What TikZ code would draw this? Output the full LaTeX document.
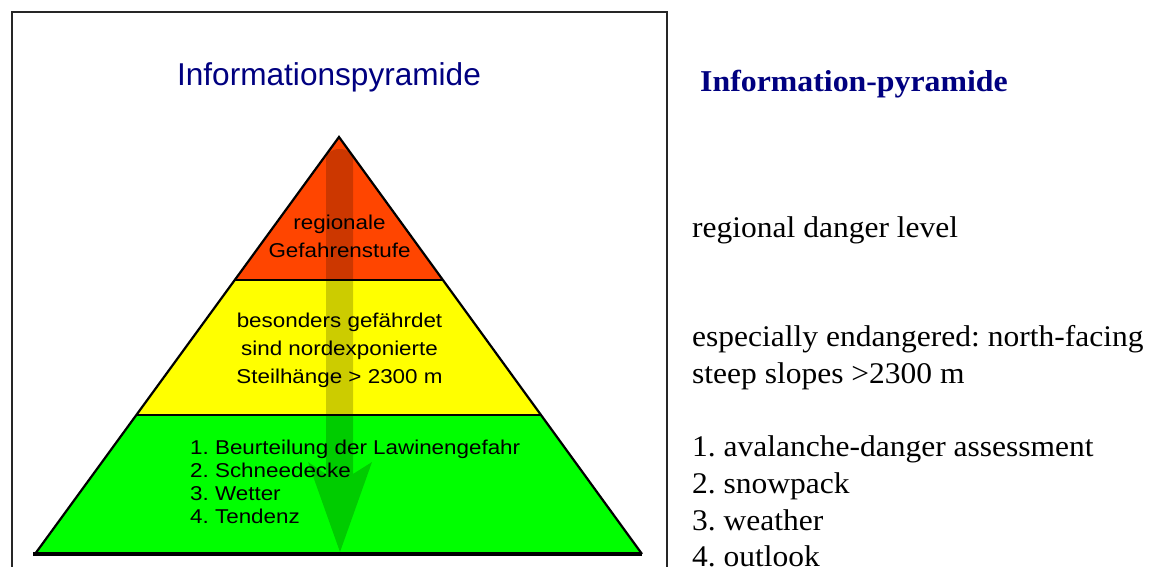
\documentclass[tikz,border=0pt]{standalone}
\usepackage{fontspec}
\setmainfont{Liberation Serif}
\newfontfamily\pyrfont[FakeStretch=1.12]{Liberation Sans}
\newfontfamily\headfont{Liberation Sans}
\newfontfamily\engfont[FakeStretch=1.05]{Liberation Serif}
\usetikzlibrary{calc}
\frenchspacing

\definecolor{headblue}{RGB}{0,0,128}
\definecolor{topred}{RGB}{255,69,0}
\definecolor{midyellow}{RGB}{255,255,0}
\definecolor{basegreen}{RGB}{0,255,0}

\tikzset{
    pyrtext/.style={font=\pyrfont\fontsize{20}{28}\selectfont,inner sep=0pt,align=center,anchor=base},
    pyrlist/.style={font=\pyrfont\fontsize{20}{22.7}\selectfont,inner sep=0pt,align=left,anchor=base west},
    engtext/.style={font=\engfont\fontsize{30}{36.7}\selectfont,inner sep=0pt,align=left,anchor=base west}
}

\begin{document}
\begin{tikzpicture}[x=1pt,y=-1pt]
            \useasboundingbox (0,0) rectangle (1155,566);
            \clip (0,0) rectangle (1155,566);
            \fill[white] (0,0) rectangle (1155,566);
            \draw[line width=1.5pt,black!85] (12,572) -- (12,12) -- (667,12) -- (667,572);
            \node[font=\headfont\fontsize{31.6}{36}\selectfont,text=headblue,inner sep=0pt,anchor=base]
                (titlede) at (329,85) {Informationspyramide};

            \coordinate (apex) at (339,137);
            \coordinate (bl) at (35,554);
            \coordinate (br) at (642,554);
            \coordinate (yl) at ($(apex)!0.343!(bl)$);
            \coordinate (yr) at ($(apex)!0.343!(br)$);
            \coordinate (gl) at ($(apex)!0.667!(bl)$);
            \coordinate (gr) at ($(apex)!0.667!(br)$);

            \fill[topred] (apex) -- (yl) -- (yr) -- cycle;
            \fill[midyellow] (yl) -- (gl) -- (gr) -- (yr) -- cycle;
            \fill[basegreen] (gl) -- (bl) -- (br) -- (gr) -- cycle;
            \draw[line width=2.2pt,line join=miter] (bl) -- (apex) -- (br);
            \draw[line width=2.5pt] (yl) -- (yr);
            \draw[line width=2.5pt] (gl) -- (gr);
            \draw[line width=3.5pt] ($(bl)+(-2,0)$) -- (br);

            \fill[black,opacity=0.2] (326,474) -- (326,158)
                arc[start angle=180,end angle=0,x radius=13.5pt,y radius=9pt]
                -- (353,474) -- (372,462) -- (340,552) -- (308,462) -- cycle;

            % multi-line nodes sit on the baseline of their last line
            \node[pyrtext] (levelde) at (339.5,257) {regionale\\Gefahrenstufe};
            \node[pyrtext] (slopede) at (339.5,383)
                {besonders gefährdet\\sind nordexponierte\\Steilhänge > 2300 m};
            \node[pyrlist] (listde) at (190,523)
                {1. Beurteilung der Lawinengefahr\\2. Schneedecke\\3. Wetter\\4. Tendenz};

            \node[engtext,font=\engfont\bfseries\fontsize{30.3}{36}\selectfont,text=headblue]
                (titleen) at (700,91) {Information-pyramide};
            \node[engtext] (levelen) at (692,237) {regional danger level};
            \node[engtext] (slopeen) at (692,383.4)
                {especially endangered: north-facing\\steep slopes >2300 m};
            \node[engtext] (listen) at (692,566.8)
                {1. avalanche-danger assessment\\2. snowpack\\3. weather\\4. outlook};
        \end{tikzpicture}
\end{document}
